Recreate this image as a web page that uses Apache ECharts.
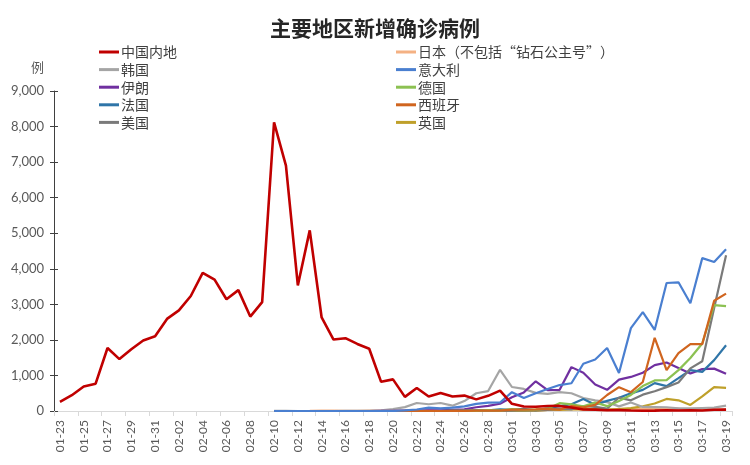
<!DOCTYPE html>
<html>
<head>
<meta charset="utf-8">
<script src="https://cdn.jsdelivr.net/npm/echarts@6/dist/echarts.min.js"></script>
<style>html,body{margin:0;padding:0;background:#fff}#c{width:750px;height:465px}</style>
</head>
<body>
<div id="c"></div>
<script>
var categories = ["01-23","01-24","01-25","01-26","01-27","01-28","01-29","01-30","01-31",
"02-01","02-02","02-03","02-04","02-05","02-06","02-07","02-08","02-09","02-10","02-11","02-12","02-13","02-14","02-15","02-16","02-17","02-18","02-19","02-20","02-21","02-22","02-23","02-24","02-25","02-26","02-27","02-28","02-29",
"03-01","03-02","03-03","03-04","03-05","03-06","03-07","03-08","03-09","03-10","03-11","03-12","03-13","03-14","03-15","03-16","03-17","03-18","03-19"];
var yTicks = [0,1000,2000,3000,4000,5000,6000,7000,8000,9000];

var china = [259,444,688,769,1771,1459,1737,1982,2102,2590,2829,3235,3887,3694,3143,3399,2656,3062,8120,6900,3530,5080,2630,2010,2048,1886,1749,820,889,397,648,409,508,406,433,327,427,573,202,125,119,139,143,99,44,40,19,24,15,8,11,20,16,21,13,34,39];
// other series from 02-10 to 03-19 (39 values)
var japan = [0,0,0,3,8,12,7,6,8,10,12,12,24,27,12,14,22,22,24,9,15,18,12,33,33,59,47,33,26,59,52,55,55,62,64,15,44,39,44];
var korea = [1,1,0,0,0,0,1,1,1,20,55,110,225,190,225,150,280,500,560,1160,675,620,510,480,530,500,365,300,250,130,240,115,110,105,76,75,85,95,150];
var italy = [0,0,0,0,0,0,0,0,0,0,0,17,42,93,74,93,131,202,233,240,530,365,500,620,730,780,1330,1450,1770,1070,2330,2780,2280,3600,3620,3030,4300,4190,4550];
var iran = [0,0,0,0,0,0,0,0,0,2,3,13,10,15,18,34,44,106,143,205,385,523,835,586,591,1234,1076,743,595,881,958,1075,1289,1365,1209,1053,1178,1192,1046];
var germany = [0,0,0,0,0,0,0,0,0,0,0,0,0,0,0,2,3,5,26,13,57,28,37,66,220,188,129,241,136,281,451,700,860,870,1150,1490,1900,2980,2950];
var france = [0,0,0,0,0,0,0,0,0,0,0,0,0,0,0,2,4,20,19,43,30,61,21,73,138,190,336,177,286,372,497,595,785,700,924,1150,1100,1430,1850];
var spain = [0,0,0,0,0,0,0,0,0,0,0,0,0,0,0,4,2,8,9,13,39,36,45,57,37,141,100,173,450,670,530,815,2060,1150,1630,1880,1880,3100,3300];
var usa = [0,0,0,0,0,0,0,0,0,0,0,0,0,0,0,0,2,1,1,6,8,22,20,31,68,45,140,116,65,378,300,460,556,672,800,1200,1400,2900,4380];
var uk = [0,0,0,0,0,0,0,0,0,0,0,0,0,0,0,0,0,0,3,4,12,4,11,34,30,48,43,67,48,52,83,134,210,340,300,170,410,670,650];

var names = ["中国内地","韩国","伊朗","法国","美国","日本（不包括“钻石公主号”）","意大利","德国","西班牙","英国"];
var colors = {"中国内地":"#C00000","韩国":"#A5A5A5","伊朗":"#7030A0","法国":"#2F75A8","美国":"#7A7A7A",
"日本（不包括“钻石公主号”）":"#F4B183","意大利":"#4A7FD0","德国":"#8CC152","西班牙":"#D0651F","英国":"#BFA02A"};

function pad(arr){ var off = categories.length - arr.length; var out=[]; for (var i=0;i<off;i++) out.push(null); return out.concat(arr); }
var dataMap = {"中国内地":china,"韩国":pad(korea),"伊朗":pad(iran),"法国":pad(france),"美国":pad(usa),
"日本（不包括“钻石公主号”）":pad(japan),"意大利":pad(italy),"德国":pad(germany),"西班牙":pad(spain),"英国":pad(uk)};

var drawOrder = ["日本（不包括“钻石公主号”）","英国","韩国","伊朗","法国","美国","德国","西班牙","意大利","中国内地"];
var series = drawOrder.map(function(n){
  return {name:n,type:'line',data:dataMap[n],symbol:'none',smooth:false,
    lineStyle:{color:colors[n],width:n==="中国内地"?2.6:2.2},itemStyle:{color:colors[n]},
    connectNulls:false,z:n==="中国内地"?5:3};
});

var font = "'Noto Sans CJK SC', 'Noto Sans', sans-serif";
var chart = echarts.init(document.getElementById('c'),null,{renderer:'canvas'});
var legendCommon = {orient:'vertical',icon:'rect',itemWidth:20,itemHeight:3,itemGap:3.6,padding:0,
  textStyle:{fontFamily:font,fontSize:14,color:'#404040',padding:[0,0,0,-3]},selectedMode:false};
chart.setOption({
  animation:false,
  backgroundColor:'#fff',
  title:{text:'主要地区新增确诊病例',left:'center',top:18,padding:0,
    textStyle:{fontFamily:font,fontSize:21,fontWeight:'bold',color:'#262626'}},
  legend:[
    Object.assign({},legendCommon,{left:99,top:45,data:names.slice(0,5)}),
    Object.assign({},legendCommon,{left:396,top:45,data:names.slice(5)})
  ],
  grid:{left:54,right:18,top:91,bottom:54,containLabel:false},
  xAxis:{type:'category',data:categories,boundaryGap:true,
    axisLine:{lineStyle:{color:'#D9D9D9',width:1}},
    axisTick:{show:true,interval:1,length:5,lineStyle:{color:'#D9D9D9'}},
    axisLabel:{interval:1,rotate:90,fontFamily:"'Lato','Open Sans',sans-serif",fontSize:12,color:'#595959',margin:9}},
  yAxis:[{type:'value',min:0,max:9000,interval:1000,
    axisLine:{show:true,lineStyle:{color:'#404040',width:1}},
    axisTick:{show:true,length:4,lineStyle:{color:'#404040'}},
    splitLine:{show:false},
    axisLabel:{fontFamily:"'Lato','Open Sans',sans-serif",fontSize:13,color:'#595959',margin:10,
      formatter:function(v){return v.toLocaleString('en-US');}}},
    {type:'value',min:0,max:9000,interval:1000,position:'left',offset:0,
    axisLine:{show:false},axisTick:{show:true,inside:true,length:4,lineStyle:{color:'#404040'}},
    axisLabel:{show:false},splitLine:{show:false}}],
  graphic:[{type:'text',left:31,top:61,style:{text:'例',fontFamily:font,fontSize:13,fill:'#595959'}}],
  series:series
});
</script>
</body>
</html>
